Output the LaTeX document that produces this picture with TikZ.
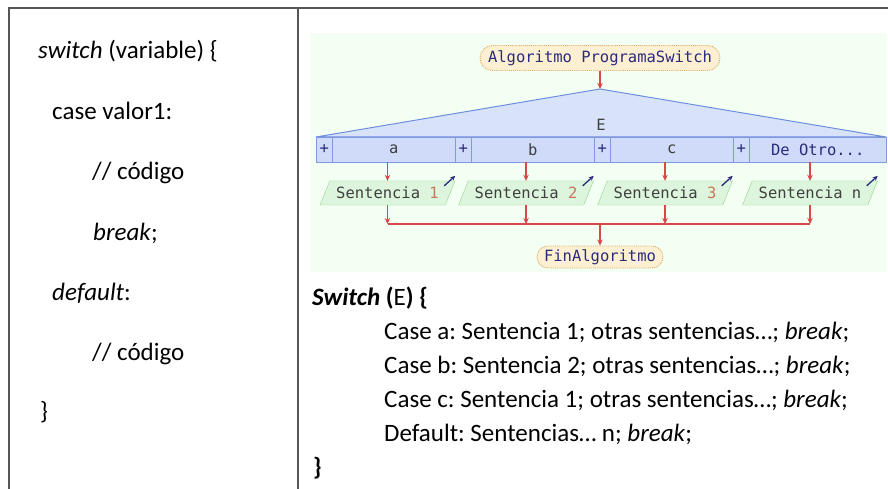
\documentclass[tikz,border=0pt]{standalone}
\usepackage{fontspec}
\setmainfont{Carlito}
\newfontfamily\diagfont{DejaVu Sans Mono}
\usetikzlibrary{arrows.meta,shapes.geometric,shapes.misc}
\frenchspacing
\definecolor{tline}{HTML}{555555}
\definecolor{dgbg}{HTML}{F4FFF4}
\definecolor{navy}{HTML}{2B2B7E}
\definecolor{dgray}{HTML}{404040}
\definecolor{pillbg}{HTML}{FDEFD2}
\definecolor{pillbd}{HTML}{E0A860}
\definecolor{tribg}{HTML}{D8E3FA}
\definecolor{tribd}{HTML}{6E8EDD}
\definecolor{cellbg}{HTML}{CFDBF8}
\definecolor{cellbd}{HTML}{7F9AE0}
\definecolor{parabg}{HTML}{DDF5DD}
\definecolor{parabd}{HTML}{8ED68E}
\definecolor{flowred}{HTML}{D84848}
\definecolor{numc}{HTML}{C8785A}
\tikzset{
  code/.style={anchor=base west, inner sep=0, font=\fontsize{25}{30}\selectfont},
  dg/.style={font=\diagfont\fontsize{15.5}{18}\selectfont},
  pill/.style={dg, rounded rectangle, draw=pillbd, densely dotted, line width=0.9, fill=pillbg, text=navy, inner xsep=2, inner ysep=1},
  cellbox/.style={dg, draw=cellbd, fill=cellbg, minimum height=25, inner sep=0, anchor=west, text=dgray},
  para/.style={dg, trapezium, trapezium left angle=58, trapezium right angle=122, trapezium stretches=true, draw=parabd, fill=parabg, minimum width=135, minimum height=24, inner sep=1, text=dgray},
  icon/.style={draw=navy, line width=1.3, -{Stealth[length=5,width=4.5]}},
  flow/.style={draw=flowred, line width=1.5, -{Stealth[length=6,width=5.5]}},
  flowline/.style={draw=flowred, line width=1.5},
}
\begin{document}
\begin{tikzpicture}[x=1pt,y=-1pt]
\useasboundingbox (0,0) rectangle (888,489);
\fill[white] (0,0) rectangle (888,489);
% table lines
\draw[tline, line width=2] (9,489) -- (9,8) -- (888,8);
\draw[tline, line width=2] (298,8) -- (298,489);
% left code
\node[code] (l1) at (38,59) {\textit{switch} (variable) \{};
\node[code] (l2) at (52,120) {case valor1:};
\node[code] (l3) at (92,180) {// código};
\node[code] (l4) at (93,240) {\textit{break};};
\node[code] (l5) at (52,300) {\textit{default}:};
\node[code] (l6) at (92,360) {// código};
\node[code] (l7) at (40,419) {\}};
% right code
\node[code] (r1) at (312,305) {\textbf{\textit{Switch} (}E\textbf{) \{}};
\node[code] (r2) at (384,339) {Case a: Sentencia 1; otras sentencias…; \textit{break};};
\node[code] (r3) at (384,373) {Case b: Sentencia 2; otras sentencias…; \textit{break};};
\node[code] (r4) at (384,407) {Case c: Sentencia 1; otras sentencias…; \textit{break};};
\node[code] (r5) at (384,441) {Default: Sentencias… n; \textit{break};};
\node[code] (r6) at (313,475) {\textbf{\}}};
% diagram background
\fill[dgbg] (310,33) rectangle (887,272);
% start
\node[pill, minimum width=244, minimum height=25] (alg) at (600,58) {Algoritmo ProgramaSwitch};
% triangle
\coordinate (apex) at (600,89);
\coordinate (tl) at (316,137);
\coordinate (tr) at (886,137);
\path[draw=tribd, fill=tribg, line width=1] (apex) -- (tl) -- (tr) -- cycle;
\node[dg, text=dgray] (E) at (601,125) {E};
% cells
\node[cellbox, minimum width=16, text=navy] (p1) at (316,149.5) {+};
\node[cellbox, minimum width=123] (ca) at (332,149.5) {a};
\node[cellbox, minimum width=16, text=navy] (p2) at (455,149.5) {+};
\node[cellbox, minimum width=123] (cb) at (471,149.5) {b};
\node[cellbox, minimum width=16, text=navy] (p3) at (594,149.5) {+};
\node[cellbox, minimum width=123] (cc) at (610,149.5) {c};
\node[cellbox, minimum width=16, text=navy] (p4) at (733,149.5) {+};
\node[cellbox, minimum width=137, text=navy] (cd) at (749,149.5) {De Otro...};
% statements
\node[para] (s1) at (387.5,193) {Sentencia \textcolor{numc}{1}};
\node[para] (s2) at (526,193) {Sentencia \textcolor{numc}{2}};
\node[para] (s3) at (665,193) {Sentencia \textcolor{numc}{3}};
\node[para] (s4) at (810,193) {Sentencia n};
\foreach \s in {s1,s2,s3,s4}{
  \draw[icon] ([shift={(-11,5)}]\s.top right corner) -- ++(11,-10);
}
% end
\node[pill, minimum width=130, minimum height=22] (fin) at (600,257) {FinAlgoritmo};
\coordinate (jm) at (600,224);
% connectors
\draw[flow] (alg.south) -- (apex);
\draw[flow] (s1.center |- ca.south) -- (s1.center |- s1.north);
\draw[flow] (s2.center |- cb.south) -- (s2.center |- s2.north);
\draw[flow] (s3.center |- cc.south) -- (s3.center |- s3.north);
\draw[flow] (s4.center |- cd.south) -- (s4.center |- s4.north);
\draw[flowline] (s1.center |- jm) -- (s4.center |- jm);
\draw[flow] (s1.center |- s1.south) -- (s1.center |- jm);
\draw[flow] (s2.center |- s2.south) -- (s2.center |- jm);
\draw[flow] (s3.center |- s3.south) -- (s3.center |- jm);
\draw[flow] (s4.center |- s4.south) -- (s4.center |- jm);
\draw[flow] (jm) -- (fin.north);
\end{tikzpicture}
\end{document}
